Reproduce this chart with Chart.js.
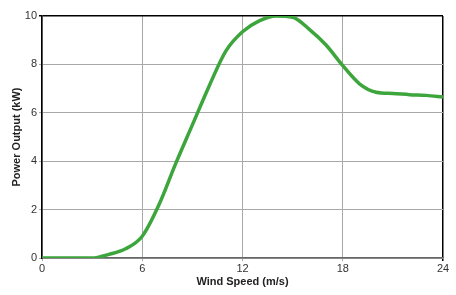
<!DOCTYPE html>
<html>
<head>
<meta charset="utf-8">
<script src="https://cdn.jsdelivr.net/npm/chart.js@4"></script>
<style>
  body { margin: 0; background: #fff; }
</style>
</head>
<body>
<canvas id="powerCurve" width="456" height="295"></canvas>
<script>
// power curve
const windSpeed = [0, 1, 2, 3, 4, 5, 6, 7, 8, 9, 10, 11, 12, 13, 14, 15, 16, 17, 18, 19, 20, 21, 22, 23, 24];
const powerOutput = [0, 0, 0, 0, 0.15, 0.38, 0.9, 2.2, 3.9, 5.5, 7.1, 8.55, 9.35, 9.8, 10, 9.95, 9.45, 8.8, 7.95, 7.2, 6.85, 6.8, 6.75, 6.72, 6.65];
const xTicks = [0, 6, 12, 18, 24];
const yTicks = [0, 2, 4, 6, 8, 10];

Chart.defaults.font.family = "'Liberation Sans', Arial, sans-serif";
Chart.defaults.color = '#222';

const points = windSpeed.map((v, i) => ({ x: v, y: powerOutput[i] }));

new Chart(document.getElementById('powerCurve'), {
  type: 'line',
  data: {
    datasets: [{
      data: points,
      borderColor: '#3ca53c',
      borderWidth: 3.5,
      pointRadius: 0,
      cubicInterpolationMode: 'monotone',
      fill: false
    }]
  },
  options: {
    responsive: false,
    animation: false,
    layout: { padding: { top: 16, right: 13, left: 10, bottom: 6 } },
    plugins: { legend: { display: false }, tooltip: { enabled: false } },
    scales: {
      x: {
        type: 'linear',
        min: 0, max: 24,
        afterBuildTicks: (s) => { s.ticks = xTicks.map(v => ({ value: v })); },
        afterFit: (s) => { s.height = 31; },
        ticks: { font: { size: 11 }, padding: 1, color: '#333' },
        grid: {
          color: (c) => (c.tick && c.tick.value === 24) ? '#000' : '#a8a8a8',
          lineWidth: (c) => (c.tick && c.tick.value === 24) ? 1.5 : 1,
          tickLength: 3
        },
        border: { color: '#666', width: 1.5 },
        title: { display: true, text: 'Wind Speed (m/s)', font: { size: 11, weight: 'bold' }, padding: { top: 0, bottom: 0 } }
      },
      y: {
        min: 0, max: 10,
        afterBuildTicks: (s) => { s.ticks = yTicks.map(v => ({ value: v })); },
        afterFit: (s) => { s.width = 32; },
        ticks: { font: { size: 11 }, padding: 2, color: '#333' },
        grid: {
          color: (c) => (c.tick && c.tick.value === 10) ? '#000' : '#a8a8a8',
          lineWidth: (c) => (c.tick && c.tick.value === 10) ? 1.5 : 1,
          tickLength: 3
        },
        border: { color: '#000', width: 1.5 },
        title: { display: true, text: 'Power Output (kW)', font: { size: 11, weight: 'bold' }, padding: { top: 0, bottom: 0 } }
      }
    }
  }
});
</script>
</body>
</html>
